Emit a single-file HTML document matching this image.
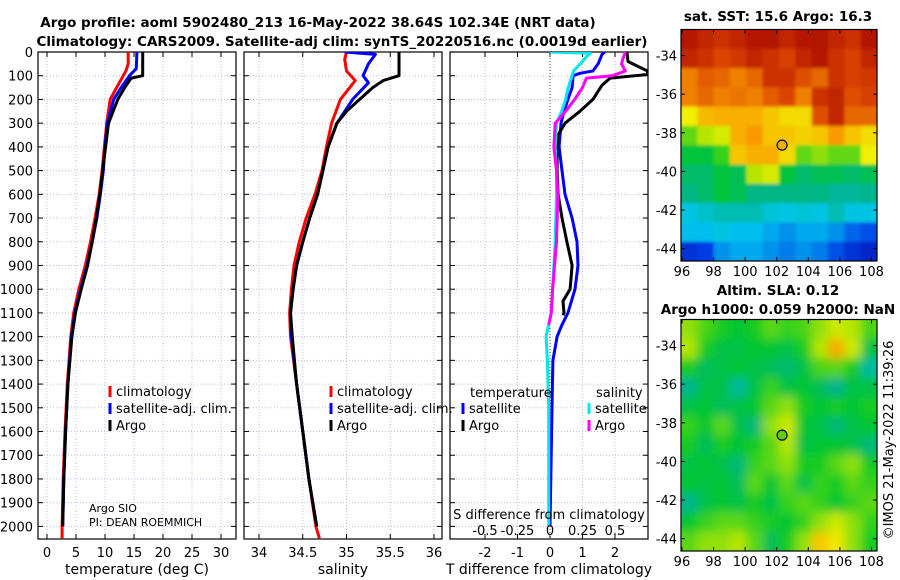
<!DOCTYPE html>
<html><head><meta charset="utf-8"><style>
body{margin:0;background:#fff}
svg{display:block;font-family:"DejaVu Sans","Liberation Sans",sans-serif}
</style></head><body>
<svg id="c" width="900" height="580" viewBox="0 0 900 580">
<defs>
<clipPath id="cp1"><rect x="38" y="52" width="198" height="487"/></clipPath>
<clipPath id="cp2"><rect x="244" y="52" width="198" height="487"/></clipPath>
<clipPath id="cp3"><rect x="450" y="52" width="198" height="487"/></clipPath>
<filter id="bl" x="-10%" y="-10%" width="120%" height="120%"><feGaussianBlur stdDeviation="5"/></filter>
<filter id="bl2" x="-10%" y="-10%" width="120%" height="120%"><feGaussianBlur stdDeviation="1.5"/></filter>
</defs>
<g id="root"></g>
</svg>
<script>
// ---- data ----
const depthTicks=[0,100,200,300,400,500,600,700,800,900,1000,1100,1200,1300,1400,1500,1600,1700,1800,1900,2000];
const tempTicks=[0,5,10,15,20,25,30];
const salTicks=[34,34.5,35,35.5,36];
const tdTicks=[-2,-1,0,1,2];
const sdTicks=[-0.5,-0.25,0,0.25,0.5];
const sdTickLabels=["-0.5","-0.25","0","0.25","0.5"];

const argoTD=[0,100,110,150,200,300,400,500,600,700,800,900,1000,1100,1200,1400,1600,1800,2000];
const argoT=[16.5,16.5,14.5,13.4,12.2,10.6,10.1,9.6,9.1,8.5,7.8,7.0,5.9,4.9,4.3,3.6,3.2,2.9,2.7];
const climTD=[0,50,80,150,200,300,400,500,600,700,800,900,1000,1100,1200,1400,1600,1800,2000,2050];
const climT=[14.0,14.0,13.6,12.0,10.9,10.3,9.9,9.5,9.0,8.3,7.5,6.6,5.5,4.6,4.1,3.5,3.1,2.8,2.6,2.6];
const satTD=[0,70,100,150,200,300,400,500,600,700,800,900,1000,1100,1200,1400,1600,1800,2000];
const satT=[15.5,15.4,14.2,12.8,11.5,10.4,10.0,9.7,9.2,8.6,7.8,6.9,5.8,4.8,4.2,3.6,3.2,2.9,2.7];

const argoSD=[0,100,120,150,200,250,300,400,500,600,700,800,900,1000,1100,1200,1400,1600,1800,2000];
const argoS=[35.6,35.6,35.42,35.3,35.15,35.0,34.89,34.79,34.73,34.67,34.58,34.5,34.43,34.39,34.36,34.38,34.43,34.5,34.57,34.66];
const climSD=[0,30,80,120,200,300,400,500,600,700,800,900,1000,1100,1200,1400,1600,1800,2000,2050];
const climS=[35.0,34.98,35.0,35.1,34.93,34.83,34.77,34.72,34.64,34.54,34.46,34.4,34.37,34.35,34.36,34.43,34.5,34.57,34.65,34.69];
const satSD=[0,10,50,100,130,200,300,400,500,600,700,800,900,1000,1100,1200,1400,1600,1800,2000];
const satS=[34.98,35.33,35.25,35.19,35.25,35.07,34.89,34.79,34.73,34.67,34.58,34.5,34.43,34.39,34.36,34.37,34.43,34.5,34.57,34.66];

const argoDTD=[0,40,80,95,110,140,200,250,300,350,400,500,600,700,800,900,1000,1050,1100,1110];
const argoDT=[2.37,2.4,3.0,3.0,1.85,1.6,1.32,0.92,0.46,0.25,0.22,0.22,0.25,0.37,0.52,0.68,0.62,0.4,0.43,0.4];
const satDTD=[0,10,50,80,90,100,150,200,250,300,400,500,600,700,800,900,1000,1100,1150,1200,1300,1500,2000];
const satDT=[1.69,1.6,1.48,1.32,0.92,0.71,0.68,0.55,0.43,0.34,0.28,0.37,0.46,0.68,0.83,0.86,0.77,0.55,0.37,0.22,0.09,0.06,0.0];
const argoDSD=[0,30,50,80,100,110,150,200,250,300,400,500,600,800,1000,1100,1150];
const argoDS=[0.58,0.56,0.55,0.58,0.48,0.28,0.25,0.19,0.12,0.04,0.03,0.05,0.06,0.05,0.02,0.01,-0.01];
const satDSD=[0,5,20,40,80,100,150,200,250,300,400,500,600,800,1000,1100,1200,1300,1500,2000];
const satDS=[0,0.31,0.28,0.25,0.18,0.17,0.14,0.12,0.09,0.05,0.04,0.05,0.05,0.04,0.02,0.01,-0.03,-0.02,-0.01,-0.01];

const sstGrid=[
[17.2,17.0,16.8,17.0,17.2,17.3,17.0,17.2,17.3,17.0,16.8,17.2],
[17.0,16.8,16.5,16.7,17.0,16.8,16.6,17.0,17.2,16.8,16.6,17.0],
[16.0,16.3,16.2,16.0,16.2,16.8,16.8,16.4,16.2,16.8,16.6,16.7],
[16.0,16.2,16.0,16.1,16.0,16.3,16.5,16.0,16.8,17.0,16.4,16.6],
[15.0,15.5,15.6,15.6,15.6,15.4,15.2,15.2,16.4,17.0,16.2,16.2],
[14.2,14.6,14.8,15.6,15.8,15.4,15.4,15.3,15.4,15.8,15.4,15.2],
[13.6,13.6,14.0,15.4,15.6,15.6,15.2,14.2,14.4,14.2,14.2,15.0],
[13.2,13.2,13.6,13.4,14.6,14.8,13.6,13.2,13.4,13.4,13.2,13.4],
[13.0,13.2,13.6,13.4,13.0,13.0,13.0,13.0,13.0,12.8,12.8,12.9],
[12.2,12.4,12.6,12.6,12.6,12.3,12.2,12.3,12.2,12.6,12.2,12.2],
[12.0,12.0,12.2,12.0,12.0,11.8,11.6,11.8,11.8,11.6,11.2,11.0],
[10.6,10.8,11.6,11.8,11.8,11.6,11.4,11.6,11.4,11.0,10.6,10.4]];
const slaGrid=[
[.62,.58,.55,.53,.55,.59,.57,.58,.62,.66,.64,.58],
[.64,.55,.51,.51,.53,.53,.51,.55,.64,.78,.66,.51],
[.55,.49,.51,.53,.51,.49,.47,.51,.58,.59,.55,.42],
[.44,.51,.51,.42,.51,.57,.51,.53,.49,.44,.51,.51],
[.51,.53,.49,.51,.53,.59,.62,.55,.53,.55,.53,.55],
[.57,.53,.59,.51,.46,.62,.66,.53,.51,.46,.51,.53],
[.55,.49,.55,.53,.55,.59,.64,.51,.53,.53,.51,.46],
[.51,.53,.51,.46,.57,.59,.62,.55,.55,.59,.62,.55],
[.53,.51,.53,.49,.59,.53,.59,.51,.57,.55,.59,.57],
[.44,.51,.53,.51,.55,.51,.57,.59,.57,.53,.57,.59],
[.53,.57,.59,.59,.57,.55,.53,.57,.62,.66,.62,.57],
[.59,.62,.62,.64,.59,.49,.55,.62,.74,.70,.62,.55]];
const lonTicks=[96,98,100,102,104,106,108];
const latTicks=[-34,-36,-38,-40,-42,-44];
const argoLon=102.34, argoLat=-38.64;

// ---- helpers ----
const NS="http://www.w3.org/2000/svg";
const root=document.getElementById('root');
function el(tag,attrs,parent){const e=document.createElementNS(NS,tag);for(const k in attrs)e.setAttribute(k,attrs[k]);(parent||root).appendChild(e);return e;}
function txt(x,y,s,size,anchor,weight,parent){const t=el('text',{x:x,y:y,'font-size':size,'text-anchor':anchor||'middle','font-weight':weight||'normal',fill:'#000'},parent);t.textContent=s;return t;}
const Y=d=>52+d*0.2372;
const XT=t=>47+t*5.8;
const XS=s=>259+(s-34)*87.5;
const XDT=v=>550+v*32.5;
const XDS=v=>550+v*130;
function line(xs,ds,fx,color,clip,name){
  const pts=xs.map((v,i)=>fx(v).toFixed(1)+','+Y(ds[i]).toFixed(1)).join(' ');
  const p=el('polyline',{points:pts,fill:'none',stroke:color,'stroke-width':3,'stroke-linejoin':'round','clip-path':'url(#'+clip+')'});
  
  
}
function panel(x0,xTicks,fx,xLabels,xTitle,name,showY){
  const g=el('g',{});
  
  
  depthTicks.forEach(d=>{el('line',{x1:x0,x2:x0+198,y1:Y(d),y2:Y(d),stroke:'#b8c4e8','stroke-width':1,'stroke-dasharray':'1,2'},g);
    el('line',{x1:x0,x2:x0+5,y1:Y(d),y2:Y(d),stroke:'#000'},g);el('line',{x1:x0+193,x2:x0+198,y1:Y(d),y2:Y(d),stroke:'#000'},g);
    if(showY)txt(x0-5,Y(d)+5,String(d),13,'end',null,g);});
  xTicks.forEach((t,i)=>{const x=fx(t);el('line',{x1:x,x2:x,y1:52,y2:539,stroke:'#b8c4e8','stroke-width':1,'stroke-dasharray':'1,2'},g);
    el('line',{x1:x,x2:x,y1:534,y2:539,stroke:'#000'},g);el('line',{x1:x,x2:x,y1:52,y2:57,stroke:'#000'},g);
    txt(x,557,xLabels[i],13,'middle',null,g);});
  el('rect',{x:x0,y:52,width:198,height:487,fill:'none',stroke:'#000','stroke-width':1.2},g);
  const t=txt(x0+99,574,xTitle,14,'middle',null,g);
  
  
}
function legendItem(x,y,color,label,name){
  const g=el('g',{});
  
  
  el('line',{x1:x,x2:x,y1:y-10,y2:y+1,stroke:color,'stroke-width':3},g);
  txt(x+6,y,label,13,'start',null,g);
}

// ---- titles ----
let t1=txt(318,27,'Argo profile: aoml 5902480_213 16-May-2022 38.64S 102.34E (NRT data)',13.5,'middle','bold');

let t2=txt(342,46,'Climatology: CARS2009. Satellite-adj clim: synTS_20220516.nc (0.0019d earlier)',13.5,'middle','bold');


// ---- panels ----
panel(38,tempTicks,XT,tempTicks.map(String),'temperature (deg C)','temperature-panel',true);
panel(244,salTicks,XS,salTicks.map(String),'salinity','salinity-panel',false);
panel(450,tdTicks,XDT,tdTicks.map(String),'T difference from climatology','difference-panel',false);
el('line',{x1:550,x2:550,y1:52,y2:539,stroke:'#335533','stroke-dasharray':'1,2'});

line(climT,climTD,XT,'#ff0000','cp1','temp-climatology-line');
line(satT,satTD,XT,'#0000ff','cp1','temp-satellite-line');
line(argoT,argoTD,XT,'#000000','cp1','temp-argo-line');
line(climS,climSD,XS,'#ff0000','cp2','sal-climatology-line');
line(satS,satSD,XS,'#0000ff','cp2','sal-satellite-line');
line(argoS,argoSD,XS,'#000000','cp2','sal-argo-line');
line(satDT,satDTD,XDT,'#0000ff','cp3','tdiff-satellite-line');
line(argoDT,argoDTD,XDT,'#000000','cp3','tdiff-argo-line');
line(satDS,satDSD,XDS,'#00e5ee','cp3','sdiff-satellite-line');
line(argoDS,argoDSD,XDS,'#ff00ff','cp3','sdiff-argo-line');

legendItem(110,396,'#ff0000','climatology','legend-climatology');
legendItem(110,413,'#0000ff','satellite-adj. clim.','legend-satellite');
legendItem(110,430,'#000000','Argo','legend-argo');
legendItem(331,396,'#ff0000','climatology','legend-sal-climatology');
legendItem(331,413,'#0000ff','satellite-adj. clim.','legend-sal-satellite');
legendItem(331,430,'#000000','Argo','legend-sal-argo');
txt(470,397,'temperature',13,'start');
legendItem(463,413,'#0000ff','satellite','legend-t-satellite');
legendItem(463,430,'#000000','Argo','legend-t-argo');
txt(596,397,'salinity',13,'start');
legendItem(589,413,'#00e5ee','satellite','legend-s-satellite');
legendItem(589,430,'#ff00ff','Argo','legend-s-argo');
txt(89,512,'Argo SIO',11,'start');
txt(89,526,'PI: DEAN ROEMMICH',11,'start');
txt(549,519,'S difference from climatology',13,'middle');
sdTicks.forEach((v,i)=>txt(XDS(v),535,sdTickLabels[i],13,'middle'));

// ---- maps ----
const cmapStops=[[0,0,0,140],[0.15,0,60,230],[0.3,0,200,240],[0.4,0,180,140],[0.5,0,200,40],[0.6,180,230,0],[0.65,240,240,0],[0.75,250,160,0],[0.85,220,70,0],[1,160,0,0]];
function cmap(t){t=Math.max(0,Math.min(1,t));
  for(let i=1;i<cmapStops.length;i++){const a=cmapStops[i-1],b=cmapStops[i];
    if(t<=b[0]){const f=(t-a[0])/(b[0]-a[0]);return 'rgb('+[1,2,3].map(k=>Math.round(a[k]+(b[k]-a[k])*f)).join(',')+')';}}
  return 'rgb(160,0,0)';}
function map(top,bot,grid,norm,blur,name,markerColor){
  const x0=681,x1=877,lon0=95.94,lon1=108.35,lat0=-32.65,lat1=-44.64;
  const MX=l=>x0+(l-lon0)/(lon1-lon0)*(x1-x0);
  const MY=l=>top+(l-lat0)/(lat1-lat0)*(bot-top);
  const g=el('g',{});
  
  
  const cid='mc'+Math.round(top);
  const cp=el('clipPath',{id:cid},g);el('rect',{x:x0,y:top,width:x1-x0,height:bot-top},cp);
  const cg=el('g',{'clip-path':'url(#'+cid+')'},g);
  const inner=el('g',{filter:'url(#'+blur+')'},cg);
  const rows=grid.length,cols=grid[0].length,cw=(x1-x0)/cols,ch=(bot-top)/rows;
  grid.forEach((r,i)=>r.forEach((v,j)=>{
    const c=el('rect',{x:x0+j*cw-10,y:top+i*ch-10,width:cw+20,height:ch+20,fill:cmap(norm(v))},inner);
    if(j>0)c.setAttribute('x',x0+j*cw);if(i>0)c.setAttribute('y',top+i*ch);
    if(j>0)c.setAttribute('width',j==cols-1?cw+10:cw+0.5);if(i>0)c.setAttribute('height',i==rows-1?ch+10:ch+0.5);
  }));
  el('rect',{x:x0,y:top,width:x1-x0,height:bot-top,fill:'none',stroke:'#000','stroke-width':1.2},g);
  lonTicks.forEach(l=>{const x=MX(l);el('line',{x1:x,x2:x,y1:bot-4,y2:bot,stroke:'#000'},g);el('line',{x1:x,x2:x,y1:top,y2:top+4,stroke:'#000'},g);txt(x,bot+15,String(l),13,'middle',null,g);});
  latTicks.forEach(l=>{const y=MY(l);el('line',{x1:x0,x2:x0+4,y1:y,y2:y,stroke:'#000'},g);el('line',{x1:x1-4,x2:x1,y1:y,y2:y,stroke:'#000'},g);txt(x0-4,y+5,String(l),13,'end',null,g);});
  const m=el('circle',{cx:MX(argoLon),cy:MY(argoLat),r:5,fill:markerColor,stroke:'#000','stroke-width':1.2},g);
  
  
}
map(29.5,261,sstGrid,v=>v>=15?0.65+(v-15)*0.135:0.65+(v-15)*0.12,'bl2','sst-map','#f0b000');
map(319.5,551,slaGrid,v=>v-0.04,'bl','sla-map','#60d000');
txt(778,21,'sat. SST: 15.6 Argo: 16.3',13.5,'middle','bold');
txt(778,295,'Altim. SLA: 0.12',13.5,'middle','bold');
txt(778,314,'Argo h1000: 0.059 h2000: NaN',13.5,'middle','bold');
const imo=txt(0,0,'©IMOS 21-May-2022 11:39:26',13,'middle');
imo.setAttribute('transform','translate(893,440) rotate(-90)');


</script>
</body></html>
